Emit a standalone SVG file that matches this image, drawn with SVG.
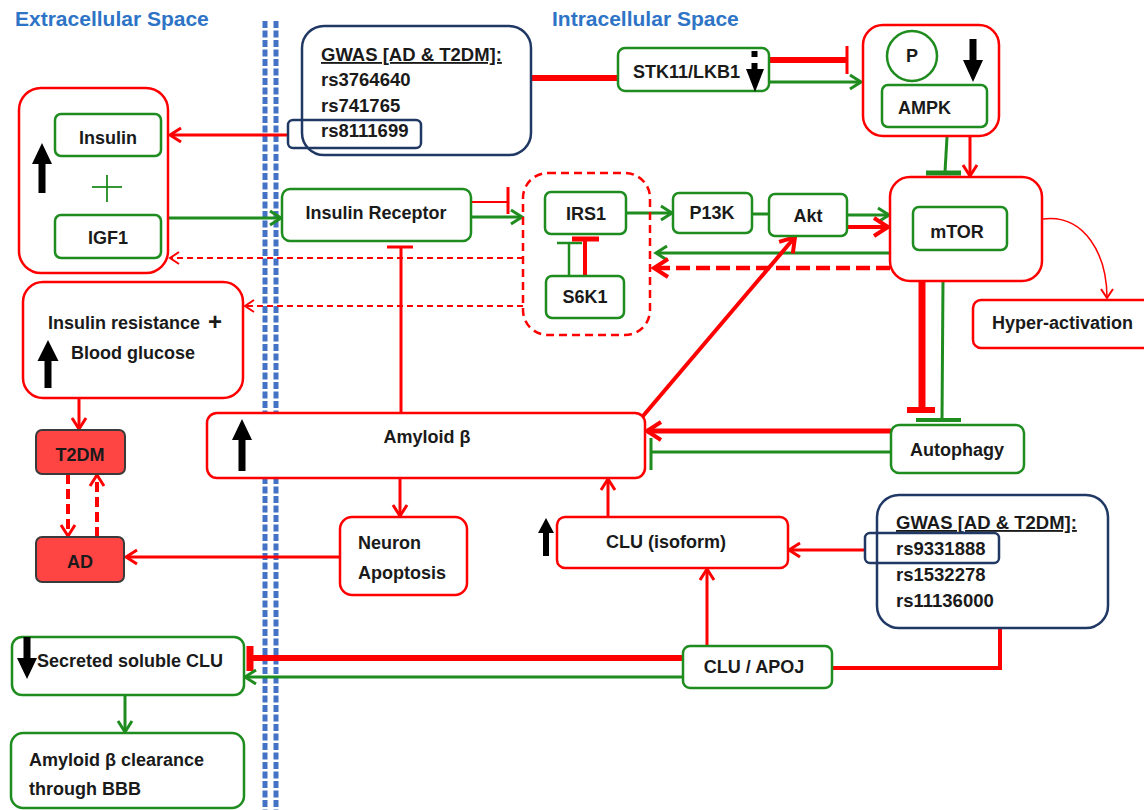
<svg xmlns="http://www.w3.org/2000/svg" width="1144" height="810" viewBox="0 0 1144 810">
<defs>
<style>
text{font-family:"Liberation Sans",Arial,sans-serif;font-weight:bold;font-size:18px;fill:#1a1a1a}
.title{fill:#2e74c6;font-size:21px}
.c{text-anchor:middle}
.gw{font-size:18.5px}
.rb{fill:#fff;stroke:#ff0000;stroke-width:2.5}
.gb{fill:#fff;stroke:#1e8c1e;stroke-width:2.5}
.nb{fill:#fff;stroke:#203864;stroke-width:2.5}
.nbo{fill:none;stroke:#203864;stroke-width:2.5}
.db{fill:#ff4444;stroke:#3a3a3a;stroke-width:2}
.r{stroke:#ff0000;fill:none}
.g{stroke:#1e8c1e;fill:none}
.blk{fill:#000}
.mem{stroke:#4472c4;stroke-width:5;stroke-dasharray:7 2.5;fill:none}
</style>
<marker id="ar" markerWidth="16" markerHeight="18" refX="13" refY="9" orient="auto" markerUnits="userSpaceOnUse"><path d="M2,2 L13,9 L2,16" fill="none" stroke="#ff0000" stroke-width="3"/></marker>
<marker id="arb" markerWidth="20" markerHeight="22" refX="16" refY="11" orient="auto" markerUnits="userSpaceOnUse"><path d="M2,2 L16,11 L2,20" fill="none" stroke="#ff0000" stroke-width="4"/></marker>
<marker id="ag" markerWidth="16" markerHeight="18" refX="13" refY="9" orient="auto" markerUnits="userSpaceOnUse"><path d="M2,2 L13,9 L2,16" fill="none" stroke="#1e8c1e" stroke-width="3"/></marker>
<marker id="art" markerWidth="14" markerHeight="16" refX="11" refY="8" orient="auto" markerUnits="userSpaceOnUse"><path d="M2,2 L11,8 L2,14" fill="none" stroke="#ff0000" stroke-width="2"/></marker>
</defs>
<rect width="1144" height="810" fill="#fff"/>

<g id="titles">
<text class="title" x="15" y="26">Extracellular Space</text>
<text class="title" x="552" y="26">Intracellular Space</text>
</g>

<g id="membrane">
<line class="mem" x1="265" y1="21" x2="265" y2="810"/>
<line class="mem" x1="276" y1="21" x2="276" y2="810"/>
</g>

<g id="connectors">
<line class="r" x1="531" y1="78" x2="618" y2="78" stroke-width="6"/>
<line class="r" x1="769" y1="60" x2="847" y2="60" stroke-width="6"/>
<line class="r" x1="847" y1="46" x2="847" y2="74" stroke-width="3"/>
<line class="g" x1="769" y1="82" x2="861" y2="82" stroke-width="3" marker-end="url(#ag)"/>
<line class="r" x1="288" y1="135" x2="170" y2="135" stroke-width="3" marker-end="url(#ar)"/>
<line class="g" x1="168" y1="218" x2="281" y2="218" stroke-width="3" marker-end="url(#ag)"/>
<line class="r" x1="471" y1="202" x2="508" y2="202" stroke-width="2"/>
<line class="r" x1="508" y1="187" x2="508" y2="214" stroke-width="3"/>
<line class="g" x1="471" y1="217" x2="522" y2="217" stroke-width="3" marker-end="url(#ag)"/>
<line class="r" x1="523" y1="258" x2="170" y2="258" stroke-width="2" stroke-dasharray="6 4" marker-end="url(#art)"/>
<line class="r" x1="523" y1="306" x2="245" y2="306" stroke-width="2" stroke-dasharray="6 4" marker-end="url(#art)"/>
<line class="g" x1="626" y1="213" x2="672" y2="213" stroke-width="3" marker-end="url(#ag)"/>
<line class="g" x1="752" y1="214" x2="769" y2="214" stroke-width="3"/>
<line class="g" x1="847" y1="215" x2="889" y2="215" stroke-width="3" marker-end="url(#ag)"/>
<line class="r" x1="847" y1="227" x2="888" y2="227" stroke-width="4" marker-end="url(#arb)"/>
<line class="g" x1="890" y1="253" x2="656" y2="253" stroke-width="3" marker-end="url(#ag)"/>
<line class="r" x1="890" y1="268" x2="654" y2="268" stroke-width="4.5" stroke-dasharray="14 6" marker-end="url(#arb)"/>
<line class="g" x1="569" y1="276" x2="569" y2="243" stroke-width="2.5"/>
<line class="g" x1="557" y1="243" x2="582" y2="243" stroke-width="2.5"/>
<line class="r" x1="585" y1="276" x2="585" y2="240" stroke-width="4"/>
<line class="r" x1="572" y1="239" x2="599" y2="239" stroke-width="5"/>
<line class="g" x1="947" y1="137" x2="945" y2="172" stroke-width="3"/>
<line class="g" x1="926" y1="173" x2="961" y2="173" stroke-width="5"/>
<line class="r" x1="970" y1="136" x2="970" y2="176" stroke-width="3" marker-end="url(#ar)"/>
<path class="r" d="M1043,219 C1085,214 1107,255 1107,298" stroke-width="1.5" marker-end="url(#art)"/>
<line class="r" x1="922" y1="281" x2="922" y2="408" stroke-width="7"/>
<line class="r" x1="907" y1="410" x2="935" y2="410" stroke-width="6"/>
<line class="g" x1="943" y1="281" x2="942" y2="420" stroke-width="3"/>
<line class="g" x1="916" y1="420" x2="961" y2="420" stroke-width="4"/>
<line class="r" x1="891" y1="431" x2="647" y2="431" stroke-width="5" marker-end="url(#arb)"/>
<line class="g" x1="891" y1="452" x2="651" y2="452" stroke-width="3"/>
<line class="g" x1="651" y1="438" x2="651" y2="470" stroke-width="3"/>
<line class="r" x1="643" y1="416" x2="795" y2="237" stroke-width="4" marker-end="url(#arb)"/>
<line class="r" x1="401" y1="413" x2="401" y2="247" stroke-width="3"/>
<line class="r" x1="387" y1="247" x2="413" y2="247" stroke-width="3"/>
<line class="r" x1="400" y1="478" x2="400" y2="516" stroke-width="3" marker-end="url(#ar)"/>
<line class="r" x1="339" y1="557" x2="126" y2="557" stroke-width="3" marker-end="url(#ar)"/>
<line class="r" x1="79" y1="398" x2="79" y2="429" stroke-width="3" marker-end="url(#ar)"/>
<line class="r" x1="68" y1="474" x2="68" y2="536" stroke-width="4" stroke-dasharray="10 5" marker-end="url(#ar)"/>
<line class="r" x1="97" y1="537" x2="97" y2="475" stroke-width="4" stroke-dasharray="10 5" marker-end="url(#ar)"/>
<line class="r" x1="608" y1="517" x2="608" y2="479" stroke-width="3" marker-end="url(#ar)"/>
<line class="r" x1="865" y1="550" x2="789" y2="550" stroke-width="3" marker-end="url(#ar)"/>
<line class="r" x1="707" y1="646" x2="707" y2="569" stroke-width="3" marker-end="url(#ar)"/>
<polyline class="r" points="1000,628 1000,668 833,668" stroke-width="4"/>
<line class="r" x1="683" y1="658" x2="250" y2="658" stroke-width="6"/>
<line class="r" x1="250" y1="646" x2="250" y2="671" stroke-width="7"/>
<line class="g" x1="683" y1="677" x2="245" y2="677" stroke-width="3" marker-end="url(#ag)"/>
<line class="g" x1="125" y1="695" x2="125" y2="732" stroke-width="3" marker-end="url(#ag)"/>
</g>

<g id="gwas1">
<rect class="nb" x="302" y="26" width="229" height="129" rx="22"/>
<text class="gw" x="321" y="61" text-decoration="underline">GWAS [AD &amp; T2DM]:</text>
<text class="gw" x="321" y="86">rs3764640</text>
<text class="gw" x="321" y="112">rs741765</text>
<text class="gw" x="321" y="137">rs8111699</text>
<rect class="nbo" x="288" y="120" width="133" height="28" rx="5"/>
</g>

<g id="insulin-group">
<rect class="rb" x="19" y="88" width="149" height="185" rx="22"/>
<polygon class="blk" points="42,143 52,164 45.5,164 45.5,193 38.5,193 38.5,164 32,164"/>
<line class="g" x1="92" y1="187" x2="122" y2="187" stroke-width="1.8"/>
<line class="g" x1="107" y1="175" x2="107" y2="202" stroke-width="1.8"/>
</g>
<g id="insulin">
<rect class="gb" x="55" y="114" width="106" height="42" rx="6"/>
<text class="c" x="108" y="144">Insulin</text>
</g>
<g id="igf1">
<rect class="gb" x="55" y="215" width="106" height="43" rx="6"/>
<text class="c" x="108" y="244">IGF1</text>
</g>

<g id="insulin-receptor">
<rect class="gb" x="282" y="189" width="189" height="52" rx="8"/>
<text class="c" x="376" y="219">Insulin Receptor</text>
</g>

<g id="stk11">
<rect class="gb" x="618" y="48" width="151" height="43" rx="7"/>
<text x="633" y="78">STK11/LKB1</text>
<rect class="blk" x="751.5" y="51" width="6" height="6"/>
<rect class="blk" x="751.5" y="63" width="6" height="6"/>
<polygon class="blk" points="746,69 764,69 755,92"/>
</g>

<g id="ampk-group">
<rect class="rb" x="863" y="25" width="136" height="111" rx="20"/>
<circle cx="912" cy="56" r="25" fill="#fff" stroke="#1e8c1e" stroke-width="2.5"/>
<text class="c" x="912" y="62">P</text>
<polygon class="blk" points="969.5,39 976.5,39 976.5,60 983,60 973,82 963,60 969.5,60"/>
</g>
<g id="ampk">
<rect class="gb" x="882" y="85" width="105" height="42" rx="6"/>
<text x="898" y="114">AMPK</text>
</g>

<g id="irs-group">
<rect x="523" y="173" width="127" height="162" rx="25" fill="none" stroke="#ff0000" stroke-width="2.5" stroke-dasharray="8 5"/>
</g>
<g id="irs1">
<rect class="gb" x="545" y="192" width="81" height="42" rx="6"/>
<text class="c" x="586" y="220">IRS1</text>
</g>
<g id="s6k1">
<rect class="gb" x="546" y="276" width="78" height="42" rx="6"/>
<text class="c" x="585" y="303">S6K1</text>
</g>

<g id="p13k">
<rect class="gb" x="673" y="193" width="79" height="40" rx="6"/>
<text class="c" x="712" y="219">P13K</text>
</g>
<g id="akt">
<rect class="gb" x="769" y="194" width="78" height="42" rx="6"/>
<text class="c" x="808" y="222">Akt</text>
</g>

<g id="mtor-group">
<rect class="rb" x="890" y="177" width="152" height="104" rx="20"/>
</g>
<g id="mtor">
<rect class="gb" x="913" y="207" width="94" height="43" rx="6"/>
<text class="c" x="957" y="238">mTOR</text>
</g>

<g id="hyper-activation">
<rect class="rb" x="973" y="300" width="185" height="48" rx="8"/>
<text x="992" y="329">Hyper-activation</text>
</g>

<g id="insulin-resistance">
<rect class="rb" x="23" y="282" width="220" height="116" rx="20"/>
<text x="48" y="329">Insulin resistance</text>
<text x="208" y="330" style="font-size:24px">+</text>
<text x="71" y="359">Blood glucose</text>
<polygon class="blk" points="48,340 58.5,361 51.5,361 51.5,388 44.5,388 44.5,361 37.5,361"/>
</g>

<g id="t2dm">
<rect class="db" x="36" y="430" width="89" height="44" rx="6"/>
<text class="c" x="80" y="461">T2DM</text>
</g>
<g id="ad">
<rect class="db" x="36" y="537" width="88" height="45" rx="6"/>
<text class="c" x="80" y="568">AD</text>
</g>

<g id="amyloid">
<rect class="rb" x="207" y="413" width="438" height="65" rx="10"/>
<polygon class="blk" points="242,419 252,440 245.5,440 245.5,471 238.5,471 238.5,440 232,440"/>
<text class="c" x="427" y="443">Amyloid β</text>
</g>

<g id="autophagy">
<rect class="gb" x="891" y="425" width="133" height="48" rx="8"/>
<text class="c" x="957" y="456">Autophagy</text>
</g>

<g id="neuron-apoptosis">
<rect class="rb" x="340" y="517" width="127" height="78" rx="12"/>
<text x="358" y="549">Neuron</text>
<text x="358" y="579">Apoptosis</text>
</g>

<g id="clu-isoform">
<rect class="rb" x="557" y="517" width="231" height="51" rx="8"/>
<polygon class="blk" points="546,518 554,533 549,533 549,556 543,556 543,533 538,533"/>
<text x="606" y="548">CLU (isoform)</text>
</g>

<g id="gwas2">
<rect class="nb" x="877" y="495" width="231" height="133" rx="22"/>
<text class="gw" x="896" y="529" text-decoration="underline">GWAS [AD &amp; T2DM]:</text>
<text class="gw" x="896" y="555">rs9331888</text>
<text class="gw" x="896" y="581">rs1532278</text>
<text class="gw" x="896" y="607">rs11136000</text>
<rect class="nbo" x="865" y="533" width="134" height="30" rx="5"/>
</g>

<g id="clu-apoj">
<rect class="gb" x="683" y="646" width="149" height="42" rx="7"/>
<text class="c" x="754" y="673">CLU / APOJ</text>
</g>

<g id="secreted-clu">
<rect class="gb" x="12" y="637" width="232" height="58" rx="10"/>
<polygon class="blk" points="23.5,637 30.5,637 30.5,658 37,658 27,679 17,658 23.5,658"/>
<text x="37" y="667">Secreted soluble CLU</text>
</g>

<g id="amyloid-clearance">
<rect class="gb" x="11" y="733" width="233" height="75" rx="12"/>
<text x="29" y="766">Amyloid β clearance</text>
<text x="29" y="795">through BBB</text>
</g>
</svg>
